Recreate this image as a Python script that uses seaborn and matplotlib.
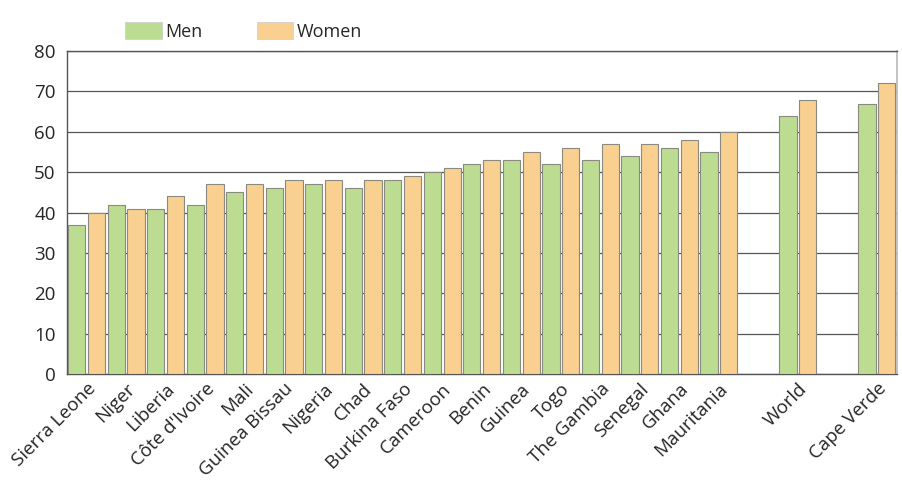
import matplotlib
matplotlib.use("Agg")
import matplotlib.pyplot as plt
import seaborn as sns
import pandas as pd

countries = ["Sierra Leone", "Niger", "Liberia", "Côte d'Ivoire", "Mali", "Guinea Bissau",
             "Nigeria", "Chad", "Burkina Faso", "Cameroon", "Benin", "Guinea", "Togo",
             "The Gambia", "Senegal", "Ghana", "Mauritania", "World", "Cape Verde"]
men = [37, 42, 41, 42, 45, 46, 47, 46, 48, 50, 52, 53, 52, 53, 54, 56, 55, 64, 67]
women = [40, 41, 44, 47, 47, 48, 48, 48, 49, 51, 53, 55, 56, 57, 57, 58, 60, 68, 72]
yticks = [0, 10, 20, 30, 40, 50, 60, 70, 80]

df = pd.DataFrame({
    "country": countries * 2,
    "value": men + women,
    "sex": ["Men"] * len(countries) + ["Women"] * len(countries),
})

order = countries[:17] + ["_gap1", "World", "_gap2", "Cape Verde"]

sns.set_theme(style="white")
plt.rcParams["font.family"] = ["Open Sans", "DejaVu Sans"]

fig = plt.figure(figsize=(9.03, 4.91), dpi=100)
ax = fig.add_axes([0.074, 0.238, 0.919, 0.658])

sns.barplot(data=df, x="country", y="value", hue="sex", order=order,
            hue_order=["Men", "Women"], palette=["#bcdc92", "#f9d08f"],
            saturation=1, width=1.0, gap=0.13, edgecolor="#8a8a80", linewidth=0.8,
            errorbar=None, ax=ax, zorder=3)

ax.set_ylim(0, 80)
ax.set_xlim(-0.5, len(order) - 0.5)
ax.set_yticks(yticks)
ax.set_yticklabels([str(t) for t in yticks], fontsize=13.5)
ax.yaxis.grid(True, color="#555555", linewidth=0.9, zorder=0)
ax.set_axisbelow(True)

pos = [order.index(c) for c in countries]
ax.set_xticks(pos)
ax.set_xticklabels(countries, rotation=45, ha="right", rotation_mode="anchor", fontsize=13.5)
ax.tick_params(axis="x", length=0, pad=4)
ax.tick_params(axis="y", length=0, pad=8)
ax.set_xlabel("")
ax.set_ylabel("")

for s in ["left", "bottom", "top"]:
    ax.spines[s].set_color("#555555")
    ax.spines[s].set_linewidth(1.0)
ax.spines["right"].set_color("#bbbbbb")

leg = ax.legend(loc="lower left", bbox_to_anchor=(0.062, 1.01), ncol=2, frameon=False,
                fontsize=13, handlelength=2.0, handleheight=1.15, columnspacing=3.0,
                handletextpad=0.2, borderaxespad=0)
for h in leg.legend_handles:
    h.set_edgecolor("#cccccc")
    h.set_linewidth(0.5)

fig.savefig("out.png", dpi=100)
